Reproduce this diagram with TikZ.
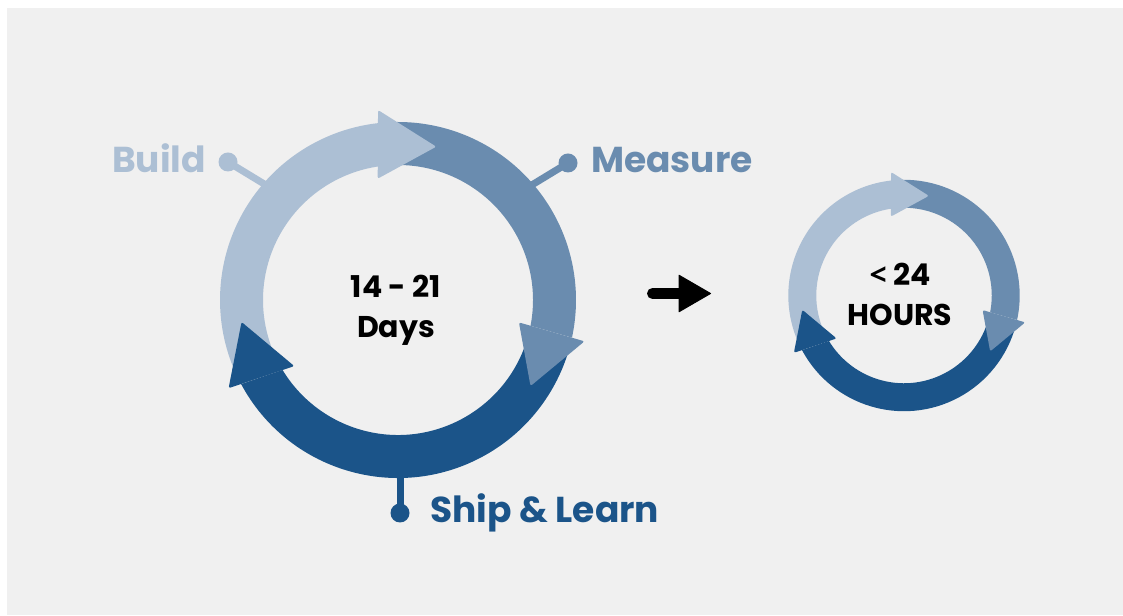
\documentclass[tikz,border=0pt]{standalone}
\usepackage{fontspec}
\setmainfont{Poppins}
\newfontfamily\signfont{Open Sans}
\usepackage{xcolor}
\usepackage{tikz}
\usetikzlibrary{arrows.meta,positioning}

\definecolor{bgc}{HTML}{F0F0F0}
\definecolor{buildc}{HTML}{ACBFD4}
\definecolor{measurec}{HTML}{6A8CAF}
\definecolor{shipc}{HTML}{1B5489}

\begin{document}
\begin{tikzpicture}[x=1pt,y=1pt,
  head/.style={rounded corners=2pt},
  pin/.style={line width=7pt},
  dot/.style={circle,inner sep=0pt,minimum size=19pt},
  lbl/.style={inner sep=0pt,font=\fontsize{36}{40}\selectfont\bfseries},
  mid/.style={inner sep=0pt,anchor=base,font=\fontsize{30}{36}\selectfont\bfseries},
  go/.style={line width=11pt,line cap=round,-{Triangle[length=33pt,width=38pt,line width=1pt,round]}}]
  \useasboundingbox (0,0) rectangle (1123,615);
  \fill[bgc] (7,0) rectangle (1123,607);

  % pins behind the big ring
  \node[dot,fill=buildc] (bdot) at (228,453) {};
  \node[dot,fill=measurec] (mdot) at (568,452) {};
  \node[dot,fill=shipc] (sdot) at (400,102) {};
  \coordinate (bend) at (279,422);
  \coordinate (mend) at (517,421);
  \coordinate (send) at (400,150);
  \draw[pin,buildc] (bdot.center) -- (bend);
  \draw[pin,measurec] (mdot.center) -- (mend);
  \draw[pin,shipc] (sdot.center) -- (send);

  % the two loops, same shape
  \foreach \cx/\cy/\s in {398/315/1, 904/319.5/0.65}{
    \begin{scope}[shift={(\cx,\cy)},scale=\s]
      \fill[buildc] (205:135) arc[start angle=205,end angle=98.5,radius=135]
        -- (96.45:178) arc[start angle=96.45,end angle=205,radius=178] -- cycle;
      \fill[measurec] (93:135) arc[start angle=93,end angle=-11,radius=135]
        -- (-12.2:178) arc[start angle=-12.2,end angle=93,radius=178] -- cycle;
      \fill[shipc] (-15:135) arc[start angle=-15,end angle=-148.8,radius=135]
        -- (-151.8:178) arc[start angle=-151.8,end angle=-15,radius=178] -- cycle;
      \fill[buildc,head] (99.5:123) -- (76:158) -- (96:191) -- cycle;
      \fill[measurec,head] (-10.5:123) -- (-33:158) -- (-12.5:191) -- cycle;
      \fill[shipc,head] (212.5:123) -- (188:158) -- (207.5:191) -- cycle;
    \end{scope}
  }

  \node[mid] (span) at (396,317) {14 - 21};
  \node[mid] (days) at (396,277) {Days};
  \node[mid] (less) at (900,329) {{\signfont <} 24};
  \node[mid] (hours) at (900,289) {HOURS};

  \node[lbl,buildc,anchor=base east] (build) at (206,442) {Build};
  \node[lbl,measurec,anchor=base west] (measure) at (591,442) {Measure};
  \node[lbl,shipc,anchor=base west] (ship) at (430,92) {Ship \& Learn};

  \coordinate (from) at (652.5,321.5);
  \coordinate (to) at (711,321.5);
  \draw[go] (from) -- (to);
\end{tikzpicture}
\end{document}
